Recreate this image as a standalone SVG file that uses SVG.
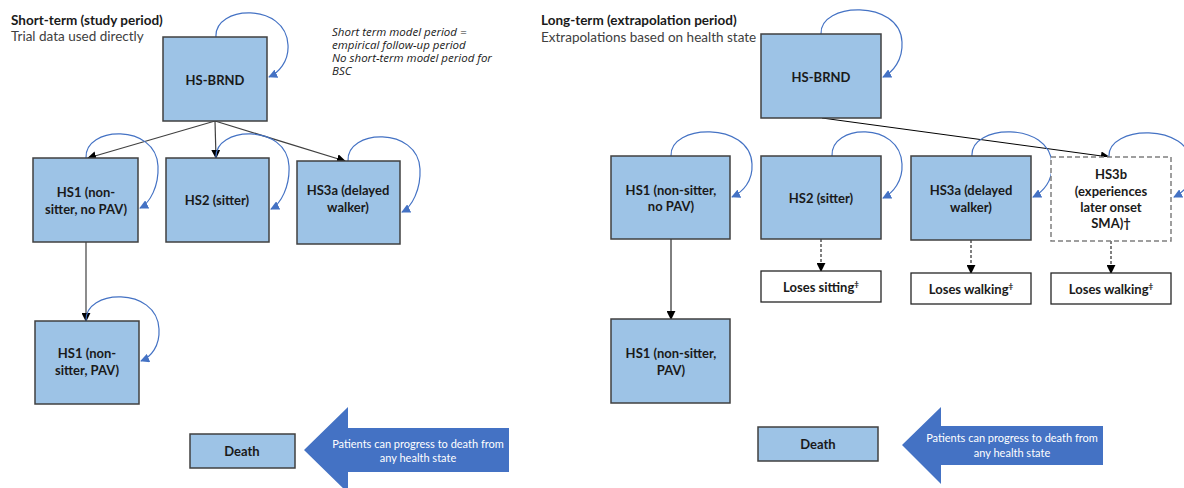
<svg xmlns="http://www.w3.org/2000/svg" width="1184" height="488" viewBox="0 0 1184 488">
<defs>
<style>
text{font-family:Lato,"Open Sans","Liberation Sans",sans-serif;fill:#1a1a1a}
.box{fill:#9DC3E6;stroke:#404040;stroke-width:1.5}
.wbox{fill:#fff;stroke:#262626;stroke-width:1.3}
.dbox{fill:#fff;stroke:#7f7f7f;stroke-width:1.5;stroke-dasharray:5 3}
.lbl{font-size:13px;font-weight:bold;text-anchor:middle}
.title{font-size:13.5px;font-weight:bold}
.sub{font-size:13.5px;fill:#404040}
.note{font-family:"Open Sans","Liberation Sans",sans-serif;font-size:11.5px;font-style:italic}
.loop{fill:none;stroke:#4472C4;stroke-width:1.2;marker-end:url(#ba)}
.con{fill:none;stroke:#000;stroke-width:1;marker-end:url(#ka)}
.cong{fill:none;stroke:#404040;stroke-width:1.2;marker-end:url(#ka)}
.dash{fill:none;stroke:#000;stroke-width:1;stroke-dasharray:3 2;marker-end:url(#ka)}
.big{fill:#4472C4}
.wt{font-size:11px;fill:#fff;text-anchor:middle}
.sup{font-size:8px}
</style>
<marker id="ba" viewBox="0 0 10 10" refX="9" refY="5" markerWidth="9" markerHeight="9" markerUnits="userSpaceOnUse" orient="auto"><path d="M0,0 L10,5 L0,10 z" fill="#4472C4"/></marker>
<marker id="ka" viewBox="0 0 10 10" refX="9" refY="5" markerWidth="9" markerHeight="9" markerUnits="userSpaceOnUse" orient="auto"><path d="M0,0 L10,5 L0,10 z" fill="#000"/></marker>
</defs>
<rect width="1184" height="488" fill="#fff"/>

<g id="left-titles">
<text class="title" x="11" y="25">Short-term (study period)</text>
<text class="sub" x="11" y="41">Trial data used directly</text>
<text class="note" x="332" y="36">Short term model period =</text>
<text class="note" x="332" y="49">empirical follow-up period</text>
<text class="note" x="332" y="62">No short-term model period for</text>
<text class="note" x="332" y="75">BSC</text>
</g>
<g id="right-titles">
<text class="title" x="541" y="25">Long-term (extrapolation period)</text>
<text class="sub" x="541" y="42">Extrapolations based on health state</text>
</g>

<g id="connectors">
<path class="cong" d="M215,121 L88,158"/>
<path class="cong" d="M215,121 L216,158"/>
<path class="cong" d="M215,121 L345,161"/>
<path class="cong" d="M86,242 L86,321"/>
<path class="con" d="M822,118 L1109,157"/>
<path class="con" d="M671,239 L671,319"/>
<path class="dash" d="M821,239 L821,271"/>
<path class="dash" d="M971,240 L971,273"/>
<path class="dash" d="M1111,241 L1111,273"/>
<path class="loop" d="M216,37 C214,5 286,2 288,45 C289,62 278,73 269,77"/>
<path class="loop" d="M86,158 C84,126 156,123 158,166 C159,186 150,203 140,208"/>
<path class="loop" d="M216,158 C214,126 287,123 289,166 C290,186 281,204 271,209"/>
<path class="loop" d="M348,161 C346,129 418,126 420,169 C421,189 412,207 402,212"/>
<path class="loop" d="M86,321 C84,289 157,286 159,329 C160,346 151,357 141,361"/>
<path class="loop" d="M821,34 C819,2 900,-1 902,42 C903,60 893,72 883,77"/>
<path class="loop" d="M671,156 C669,124 750,121 752,164 C753,181 743,192 732,197"/>
<path class="loop" d="M832,156 C830,124 900,121 902,164 C903,181 893,193 883,198"/>
<path class="loop" d="M972,156 C970,124 1050,121 1052,164 C1053,181 1043,192 1033,197"/>
<path class="loop" d="M1109,157 C1107,125 1190,122 1192,165 C1193,182 1184,192 1174,197"/>
</g>

<g id="l-hsbrnd"><rect class="box" x="163" y="37" width="104" height="84"/><text class="lbl" x="215" y="84.5">HS-BRND</text></g>
<g id="l-hs1"><rect class="box" x="33" y="158" width="105" height="84"/><text class="lbl" x="86" y="197">HS1 (non-</text><text class="lbl" x="86" y="214">sitter, no PAV)</text></g>
<g id="l-hs2"><rect class="box" x="166" y="158" width="103" height="84"/><text class="lbl" x="217" y="204.5">HS2 (sitter)</text></g>
<g id="l-hs3a"><rect class="box" x="297" y="161" width="103" height="83"/><text class="lbl" x="348" y="195">HS3a (delayed</text><text class="lbl" x="348" y="212">walker)</text></g>
<g id="l-hs1pav"><rect class="box" x="35" y="321" width="104" height="83"/><text class="lbl" x="87" y="358">HS1 (non-</text><text class="lbl" x="87" y="375">sitter, PAV)</text></g>
<g id="l-death"><rect class="box" x="190" y="434" width="105" height="34"/><text class="lbl" x="242" y="455.5">Death</text></g>
<g id="l-bigarrow"><polygon class="big" points="304,450 348,407 348,428 509,428 509,472 348,472 348,493"/><text class="wt" x="418" y="448">Patients can progress to death from</text><text class="wt" x="418" y="462">any health state</text></g>

<g id="r-hsbrnd"><rect class="box" x="761" y="34" width="120" height="84"/><text class="lbl" x="821" y="81.5">HS-BRND</text></g>
<g id="r-hs1"><rect class="box" x="611" y="156" width="119" height="83"/><text class="lbl" x="671" y="194.5">HS1 (non-sitter,</text><text class="lbl" x="671" y="211">no PAV)</text></g>
<g id="r-hs2"><rect class="box" x="761" y="156" width="120" height="83"/><text class="lbl" x="821" y="202.5">HS2 (sitter)</text></g>
<g id="r-hs3a"><rect class="box" x="911" y="156" width="120" height="84"/><text class="lbl" x="971" y="194.5">HS3a (delayed</text><text class="lbl" x="971" y="211.5">walker)</text></g>
<g id="r-hs3b"><rect class="dbox" x="1051" y="157" width="120" height="84"/><text class="lbl" x="1111" y="178.5">HS3b</text><text class="lbl" x="1111" y="195.5">(experiences</text><text class="lbl" x="1111" y="211.5">later onset</text><text class="lbl" x="1111" y="227.5">SMA)†</text></g>
<g id="r-losesit"><rect class="wbox" x="761" y="271" width="120" height="31"/><text class="lbl" x="821" y="291.5">Loses sitting<tspan class="sup" dy="-5">‡</tspan></text></g>
<g id="r-losewalk1"><rect class="wbox" x="911" y="273" width="120" height="31"/><text class="lbl" x="971" y="293.5">Loses walking<tspan class="sup" dy="-5">‡</tspan></text></g>
<g id="r-losewalk2"><rect class="wbox" x="1051" y="273" width="120" height="31"/><text class="lbl" x="1111" y="293.5">Loses walking<tspan class="sup" dy="-5">‡</tspan></text></g>
<g id="r-hs1pav"><rect class="box" x="611" y="319" width="119" height="84"/><text class="lbl" x="671" y="357.5">HS1 (non-sitter,</text><text class="lbl" x="671" y="375">PAV)</text></g>
<g id="r-death"><rect class="box" x="758" y="427" width="120" height="34"/><text class="lbl" x="818" y="448.5">Death</text></g>
<g id="r-bigarrow"><polygon class="big" points="902,445 941,407 941,426 1103,426 1103,465 941,465 941,484"/><text class="wt" x="1012" y="442">Patients can progress to death from</text><text class="wt" x="1012" y="457">any health state</text></g>
</svg>
